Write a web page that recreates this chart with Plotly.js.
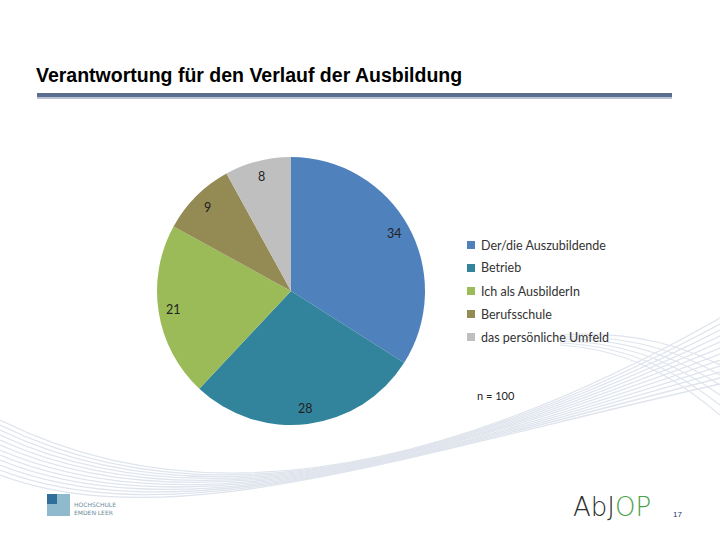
<!DOCTYPE html>
<html>
<head>
<meta charset="utf-8">
<script src="https://cdn.plot.ly/plotly-3.0.1.min.js"></script>
<style>
  html, body { margin: 0; padding: 0; background: #fff; }
  #chart { width: 720px; height: 540px; }
</style>
</head>
<body>
<div id="chart"></div>
<script>
// data
const categories = ['Der/die Auszubildende', 'Betrieb', 'Ich als AusbilderIn', 'Berufsschule', 'das persönliche Umfeld'];
const values = [34, 28, 21, 9, 8];
const sliceColors = ['#4F81BD', '#31849B', '#9BBB59', '#948A54', '#BFBFBF'];
const chartTitle = 'Verantwortung für den Verlauf der Ausbildung';
const sampleNote = 'n = 100';
const pageNumber = '17';

const W = 720, H = 540;
const px = x => x / W;
const py = y => 1 - y / H;

// pie geometry (pixels)
const cx = 291, cy = 291, rad = 134;

const shapes = [];
const annotations = [];

// background swoosh lines
const waveColor = '#dfe4ed';
for (let k = 0; k < 12; k++) {
    const p = [[0, 420 + 5 * k], [170, 505 + 3 * k], [400, 500 - 4 * k], [720, 318 + 6 * k]];
    shapes.push({
        type: 'path', xref: 'paper', yref: 'paper', layer: 'below',
        path: `M ${px(p[0][0])},${py(p[0][1])} C ${px(p[1][0])},${py(p[1][1])} ${px(p[2][0])},${py(p[2][1])} ${px(p[3][0])},${py(p[3][1])}`,
        line: { color: waveColor, width: 1.3 }
    });
}
for (let k = 0; k < 6; k++) {
    const p = [[560, 335 + 2 * k], [640, 330 + 4 * k], [690, 350 + 8 * k], [720, 365 + 10 * k]];
    shapes.push({
        type: 'path', xref: 'paper', yref: 'paper', layer: 'below',
        path: `M ${px(p[0][0])},${py(p[0][1])} C ${px(p[1][0])},${py(p[1][1])} ${px(p[2][0])},${py(p[2][1])} ${px(p[3][0])},${py(p[3][1])}`,
        line: { color: waveColor, width: 1.2 }
    });
}

// title underline bar
shapes.push({ type: 'rect', xref: 'paper', yref: 'paper', x0: px(37), x1: px(672), y0: py(97), y1: py(93),
    fillcolor: '#5a6d8f', line: { width: 0 } });
shapes.push({ type: 'rect', xref: 'paper', yref: 'paper', x0: px(37), x1: px(672), y0: py(99), y1: py(97),
    fillcolor: '#b8c2d3', line: { width: 0 } });

annotations.push({
    text: '<b>' + chartTitle + '</b>', xref: 'paper', yref: 'paper', x: px(34), y: py(75),
    xanchor: 'left', yanchor: 'middle', showarrow: false,
    font: { family: 'Liberation Sans, Arial, sans-serif', size: 19.5, color: '#000' }
});

// value labels placed inside each slice near the rim
const total = values.reduce((a, b) => a + b, 0);
let cum = 0;
values.forEach(v => {
    const th = 2 * Math.PI * (cum + v / 2) / total;
    cum += v;
    annotations.push({
        text: String(v), xref: 'paper', yref: 'paper',
        x: px(cx + 0.885 * rad * Math.sin(th)), y: py(cy - 0.885 * rad * Math.cos(th)),
        xanchor: 'center', yanchor: 'middle', showarrow: false,
        font: { family: 'Lato, sans-serif', size: 12.5, color: '#222' }
    });
});

// legend
categories.forEach((c, i) => {
    const yc = 245 + 23 * i;
    shapes.push({ type: 'rect', xref: 'paper', yref: 'paper', x0: px(467), x1: px(475), y0: py(yc + 4), y1: py(yc - 4),
        fillcolor: sliceColors[i], line: { width: 0 } });
    annotations.push({
        text: c, xref: 'paper', yref: 'paper', x: px(479), y: py(yc),
        xanchor: 'left', yanchor: 'middle', showarrow: false,
        font: { family: 'Lato, sans-serif', size: 12.5, color: '#333' }
    });
});

annotations.push({
    text: sampleNote, xref: 'paper', yref: 'paper', x: px(475), y: py(395),
    xanchor: 'left', yanchor: 'middle', showarrow: false,
    font: { family: 'Lato, sans-serif', size: 11, color: '#222' }
});

// footer logos
shapes.push({ type: 'rect', xref: 'paper', yref: 'paper', x0: px(47), x1: px(70), y0: py(516), y1: py(494),
    fillcolor: '#8fb9cc', line: { width: 0 } });
shapes.push({ type: 'rect', xref: 'paper', yref: 'paper', x0: px(47), x1: px(57), y0: py(504), y1: py(494),
    fillcolor: '#2f6f9a', line: { width: 0 } });
annotations.push({
    text: 'HOCHSCHULE<br>EMDEN·LEER', xref: 'paper', yref: 'paper', x: px(72), y: py(509),
    xanchor: 'left', yanchor: 'middle', showarrow: false, align: 'left',
    font: { family: 'DejaVu Sans, sans-serif', size: 6, color: '#6d8c9c' }
});
annotations.push({
    text: 'Ab<span style="color:#2e2e2e">J</span><span style="color:#4aa24a">OP</span>', xref: 'paper', yref: 'paper',
    x: px(571), y: py(507), xanchor: 'left', yanchor: 'middle', showarrow: false,
    font: { family: 'DejaVu Sans, sans-serif', size: 26, color: '#2e2e2e', weight: 200 }
});
annotations.push({
    text: pageNumber, xref: 'paper', yref: 'paper', x: px(677), y: py(514),
    xanchor: 'center', yanchor: 'middle', showarrow: false,
    font: { family: 'Liberation Sans, sans-serif', size: 8, color: '#1d3a6b' }
});

const data = [{
    type: 'pie',
    labels: categories,
    values: values,
    sort: false,
    direction: 'clockwise',
    rotation: 0,
    marker: { colors: sliceColors, line: { width: 0 } },
    textinfo: 'none',
    hoverinfo: 'label+value',
    showlegend: false,
    domain: { x: [px(cx - rad), px(cx + rad)], y: [py(cy + rad), py(cy - rad)] }
}];

const layout = {
    width: W, height: H,
    margin: { l: 0, r: 0, t: 0, b: 0 },
    paper_bgcolor: '#fff',
    plot_bgcolor: '#fff',
    showlegend: false,
    shapes: shapes,
    annotations: annotations
};

Plotly.newPlot('chart', data, layout, { displayModeBar: false, staticPlot: true });
</script>
</body>
</html>
